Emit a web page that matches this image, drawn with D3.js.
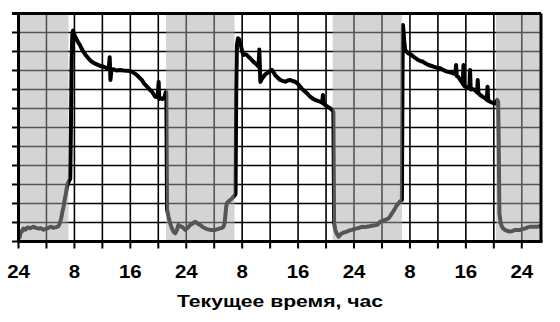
<!DOCTYPE html>
<html>
<head>
<meta charset="utf-8">
<script src="https://cdn.jsdelivr.net/npm/d3@7"></script>
<style>
html,body{margin:0;padding:0;background:#fff;}
svg{display:block;}
</style>
</head>
<body>
<svg id="chart" width="560" height="322"></svg>
<script>
// ---- data (hours from start, relative level) ----
const hours = [
0.1,0.3,0.5,0.7,1.0,1.3,1.7,2.1,2.5,2.9,3.2,3.6,3.9,4.3,4.6,5.0,5.4,5.7,5.9,6.1,6.3,6.45,6.6,6.75,6.9,7.05,7.25,7.4,
7.5,7.6,7.7,7.8,7.9,8.1,8.35,8.6,8.85,9.1,9.3,9.6,10.0,10.35,10.7,11.2,11.7,12.2,12.65,12.9,13.05,13.15,13.3,13.6,14.0,14.55,15.0,15.5,15.9,16.2,16.6,16.95,17.3,17.65,18.0,18.4,18.75,19.1,19.55,19.9,20.05,20.15,20.3,20.6,20.9,21.05,21.15,
21.25,21.46,21.7,21.95,22.2,22.42,22.65,22.89,23.1,23.38,23.6,23.85,24.2,24.56,24.9,25.28,25.6,25.99,26.3,26.71,27.0,27.42,27.8,28.14,28.5,28.85,29.1,29.33,29.5,29.6,29.7,29.81,30.0,30.28,30.5,30.76,30.95,31.05,
31.15,31.25,31.4,31.57,31.7,31.86,32.0,32.19,32.4,32.67,32.9,33.15,33.5,33.86,34.1,34.34,34.45,34.6,34.8,35.05,35.3,35.54,35.9,36.25,36.5,36.72,37.1,37.44,37.8,38.15,38.5,38.87,39.2,39.59,39.95,40.3,40.65,41.02,41.4,41.73,42.1,42.45,42.8,43.16,43.45,43.55,43.65,43.88,44.2,44.59,44.92,45.05,
45.15,45.32,45.55,45.8,46.0,46.27,46.6,46.98,47.3,47.7,48.0,48.41,48.8,49.13,49.5,49.84,50.2,50.56,50.9,51.27,51.5,51.75,52.1,52.46,52.7,52.94,53.2,53.42,53.65,53.89,54.1,54.37,54.55,54.71,54.85,
54.95,55.0,55.1,55.17,55.32,55.5,55.8,56.1,56.5,56.8,57.2,57.5,57.9,58.2,58.65,59.0,59.37,59.8,60.33,60.8,61.3,61.8,62.2,62.5,62.6,62.7,62.9,63.2,63.4,63.55,63.66,63.75,63.9,64.3,64.5,64.6,64.7,65.0,65.3,65.6,65.7,65.8,66.05,66.4,66.77,67.0,67.1,67.2,67.48,67.8,68.2,68.5,68.62,
68.7,68.8,69.0,69.16,69.35,69.6,70.0,70.35,70.7,71.06,71.4,71.78,72.1,72.5,72.85,73.2,73.7,74.2,74.5,74.75
];
const levels = [
0.15,0.45,0.55,0.68,0.62,0.74,0.7,0.78,0.72,0.68,0.7,0.62,0.66,0.72,0.78,0.72,0.76,0.8,0.95,1.2,1.6,1.85,2.2,2.45,2.8,3.05,3.2,3.3,
6.0,9.5,10.9,11.1,10.95,10.8,10.6,10.45,10.3,10.1,9.98,9.82,9.64,9.5,9.41,9.32,9.24,9.2,9.12,9.1,9.7,8.5,9.05,9.06,9.0,9.03,9.0,8.99,8.97,8.94,8.85,8.76,8.62,8.5,8.3,8.15,8.0,7.88,7.62,7.6,8.4,7.5,7.54,7.5,7.6,7.85,7.85,
1.7,1.31,0.95,0.69,0.5,0.43,0.6,0.87,0.8,0.78,0.7,0.61,0.72,0.87,0.95,1.04,0.95,0.87,0.78,0.69,0.65,0.61,0.6,0.61,0.65,0.69,0.72,0.78,1.0,1.4,1.8,2.01,2.1,2.18,2.25,2.36,2.45,2.5,
8.0,10.34,10.7,10.64,10.45,10.25,10.0,9.82,9.85,9.82,9.72,9.64,9.5,9.38,9.3,9.2,10.1,8.4,8.55,8.67,8.8,8.85,8.95,9.03,8.9,8.76,8.62,8.5,8.45,8.41,8.47,8.5,8.45,8.41,8.3,8.15,8.0,7.88,7.75,7.62,7.52,7.45,7.4,7.36,7.3,7.71,7.25,7.18,7.1,7.01,6.92,6.8,
1.0,0.61,0.4,0.25,0.35,0.43,0.48,0.52,0.58,0.61,0.65,0.69,0.72,0.78,0.76,0.78,0.8,0.83,0.85,0.87,0.95,1.04,1.1,1.13,1.18,1.22,1.35,1.48,1.6,1.75,1.9,2.01,2.1,2.15,2.2,
9.5,11.39,11.0,10.6,10.08,10.0,9.9,9.85,9.73,9.65,9.55,9.5,9.46,9.38,9.29,9.25,9.2,9.15,9.12,9.02,8.94,8.9,8.85,8.8,9.29,8.7,8.67,8.5,8.41,8.3,9.29,8.2,8.15,8.1,8.06,9.03,8.0,8.02,7.97,7.85,8.5,7.8,7.71,7.62,7.54,7.45,8.15,7.4,7.36,7.3,7.27,7.45,7.35,
5.3,1.48,0.95,0.78,0.68,0.61,0.55,0.52,0.56,0.61,0.6,0.61,0.65,0.69,0.74,0.78,0.77,0.78,0.8,0.82
];
// night (shaded) intervals, start / end hours
const nightStart = [0, 21.1, 44.95, 68.3];
const nightEnd   = [7.15, 30.9, 54.85, 74.75];
// x ticks every 4 h, labels every 8 h
const xTickHours = [0,4,8,12,16,20,24,28,32,36,40,44,48,52,56,60,64,68,72];
const xLabelHours = [0,8,16,24,32,40,48,56,64,72];
const xLabels = ["24","8","16","24","8","16","24","8","16","24"];
const yGrid = [0,1,2,3,4,5,6,7,8,9,10,11,12];
const axisTitle = "Текущее время, час";

const svg = d3.select("#chart");
const x = d3.scaleLinear().domain([0, 74.75]).range([18.5, 541]);
const y = d3.scaleLinear().domain([0, 12]).range([241.5, 13.5]);

// grid
svg.append("g").selectAll("line").data(xTickHours.filter(d => d > 0)).join("line")
  .attr("x1", d => x(d)).attr("x2", d => x(d))
  .attr("y1", y(12)).attr("y2", y(0))
  .attr("stroke", "#000").attr("stroke-width", 1.6);
svg.append("g").selectAll("line").data(yGrid.filter(d => d > 0 && d < 12)).join("line")
  .attr("x1", x(0)).attr("x2", x(74.75))
  .attr("y1", d => y(d)).attr("y2", d => y(d))
  .attr("stroke", "#000").attr("stroke-width", 1.6);

// data line
const line = d3.line().x((d, i) => x(hours[i])).y((d, i) => y(levels[i]));
svg.append("path").datum(levels)
  .attr("d", line)
  .attr("fill", "none").attr("stroke", "#000")
  .attr("stroke-width", 4).attr("stroke-linejoin", "round");

// night shading (translucent overlay)
svg.append("g").selectAll("rect").data(nightStart).join("rect")
  .attr("x", d => x(d))
  .attr("width", (d, i) => x(nightEnd[i]) - x(d))
  .attr("y", y(12) + 1.5)
  .attr("height", y(0) - y(12) - 1.5)
  .attr("fill", "#aaaaaa").attr("fill-opacity", 0.5);

// frame
const frame = svg.append("g").attr("stroke", "#000").attr("stroke-width", 3);
frame.append("line").attr("x1", 12).attr("x2", x(74.75)).attr("y1", y(12)).attr("y2", y(12));
frame.append("line").attr("x1", x(0)).attr("x2", x(74.75) + 1.5).attr("y1", y(0)).attr("y2", y(0)).attr("stroke-width", 3.2);
frame.append("line").attr("x1", x(0)).attr("x2", x(0)).attr("y1", y(12)).attr("y2", y(0));
frame.append("line").attr("x1", x(74.75)).attr("x2", x(74.75)).attr("y1", y(12)).attr("y2", y(0));

// y ticks (left, no labels)
svg.append("g").selectAll("line").data(yGrid).join("line")
  .attr("x1", 12).attr("x2", x(0))
  .attr("y1", d => y(d)).attr("y2", d => y(d))
  .attr("stroke", "#000").attr("stroke-width", 2);

// x ticks
svg.append("g").selectAll("line").data(xTickHours).join("line")
  .attr("x1", d => x(d)).attr("x2", d => x(d))
  .attr("y1", y(0)).attr("y2", y(0) + 7)
  .attr("stroke", "#000").attr("stroke-width", 2);

// x labels
svg.append("g").selectAll("text").data(xLabelHours).join("text")
  .attr("transform", d => `translate(${x(d)},278) scale(1.17,1)`)
  .attr("text-anchor", "middle")
  .attr("font-family", "'Liberation Sans', Arial, sans-serif")
  .attr("font-weight", "bold").attr("font-size", 17.5)
  .attr("fill", "#000")
  .text((d, i) => xLabels[i]);

// axis title
svg.append("text")
  .attr("x", 280).attr("y", 307)
  .attr("text-anchor", "middle")
  .attr("font-family", "'Liberation Sans', Arial, sans-serif")
  .attr("font-weight", "bold").attr("font-size", 16)
  .attr("textLength", 206).attr("lengthAdjust", "spacingAndGlyphs")
  .attr("fill", "#000")
  .text(axisTitle);
</script>
</body>
</html>
